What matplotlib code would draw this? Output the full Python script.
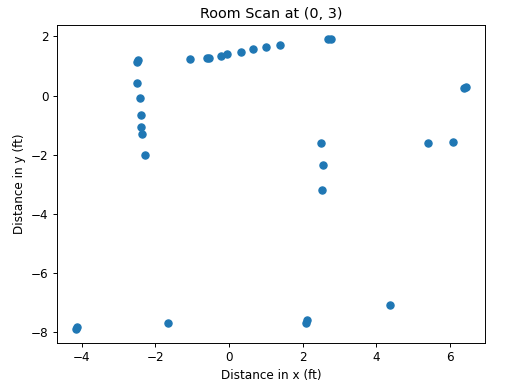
import matplotlib
matplotlib.use("Agg")
import matplotlib.pyplot as plt

x_ft = [-2.51, -2.46, -1.06, -0.60, -0.55, -0.22, -0.06, 0.32, 0.64, 1.00, 1.38,
        2.70, 2.78, -2.51, -2.41, -2.40, -2.38, -2.35, -2.28, 2.50, 2.55, 2.52,
        5.41, 6.08, 6.37, 6.42, -4.14, -4.12, -1.66, 2.12, 2.10, 4.36]
y_ft = [1.14, 1.21, 1.25, 1.29, 1.28, 1.33, 1.40, 1.49, 1.57, 1.66, 1.72,
        1.90, 1.90, 0.43, -0.09, -0.64, -1.05, -1.30, -1.99, -1.60, -2.34, -3.19,
        -1.60, -1.57, 0.26, 0.28, -7.87, -7.82, -7.69, -7.57, -7.69, -7.09]

DPI = 86.6
fig = plt.figure(figsize=(513/DPI, 385/DPI), dpi=DPI)
ax = fig.add_axes([57/513, 1-343/385, 428/513, 318/385])
ax.scatter(x_ft, y_ft)
ax.set_title("Room Scan at (0, 3)")
ax.set_xlabel("Distance in x (ft)")
ax.set_ylabel("Distance in y (ft)")
fig.savefig("out.png", dpi=DPI)
